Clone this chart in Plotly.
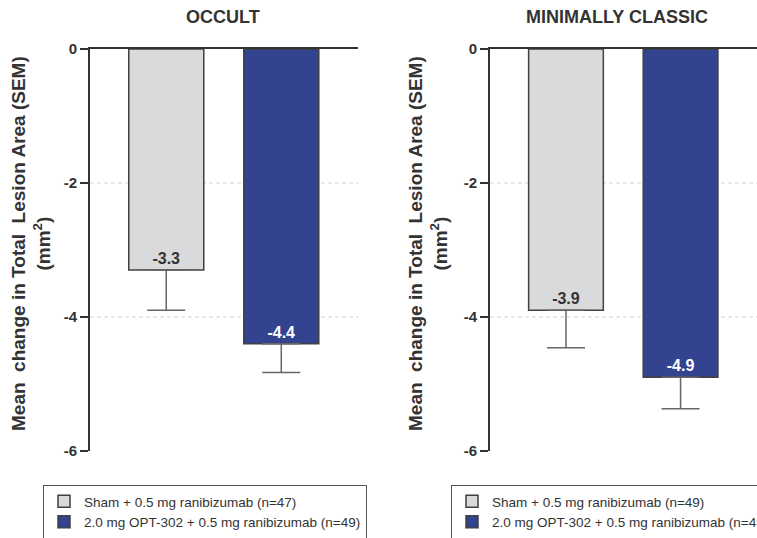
import plotly.graph_objects as go

# Mean change in total lesion area by lesion subtype
panels = ["OCCULT", "MINIMALLY CLASSIC"]
sham_mean = [-3.3, -3.9]
sham_sem = [0.6, 0.56]
sham_n = [47, 49]
opt_mean = [-4.4, -4.9]
opt_sem = [0.43, 0.47]
opt_n = [49, 49]
y_ticks = [0, -2, -4, -6]
grid_vals = [-2, -4]

W, H = 757, 538
FONT = "Liberation Sans, Arial, Helvetica, sans-serif"
TXT = "#333333"
GRAY = "#d9dadb"
BLUE = "#33438f"
EDGE = "#404040"

# panel geometry (pixels)
x_doms = [(90, 358), (490, 757)]
y_top, y_bot = 49, 451
x_range = [-0.663, 1.667]
bar_w = 0.652

fig = go.Figure()

for i, name in enumerate(panels):
    ax = "" if i == 0 else str(i + 1)
    leg = "legend" if i == 0 else "legend2"
    fig.add_trace(go.Bar(
        x=[0], y=[sham_mean[i]], width=[bar_w],
        xaxis="x" + ax, yaxis="y" + ax, legend=leg,
        name=f"Sham + 0.5 mg ranibizumab (n={sham_n[i]})",
        marker=dict(color=GRAY, line=dict(color=EDGE, width=1.5)),
        error_y=dict(type="data", symmetric=False, array=[0], arrayminus=[sham_sem[i]],
                     color="#666666", thickness=1.5, width=19),
        text=[f"{sham_mean[i]:.1f}"], textposition="inside", insidetextanchor="end",
        textangle=0, constraintext="none",
        textfont=dict(family=FONT, size=16, color=TXT, weight="bold"),
        hoverinfo="skip",
    ))
    fig.add_trace(go.Bar(
        x=[1], y=[opt_mean[i]], width=[bar_w],
        xaxis="x" + ax, yaxis="y" + ax, legend=leg,
        name=f"2.0 mg OPT-302 + 0.5 mg ranibizumab (n={opt_n[i]})",
        marker=dict(color=BLUE, line=dict(color=EDGE, width=1.5)),
        error_y=dict(type="data", symmetric=False, array=[0], arrayminus=[opt_sem[i]],
                     color="#666666", thickness=1.5, width=19),
        text=[f"{opt_mean[i]:.1f}"], textposition="inside", insidetextanchor="end",
        textangle=0, constraintext="none",
        textfont=dict(family=FONT, size=16, color="white", weight="bold"),
        hoverinfo="skip",
    ))

layout = dict(
    width=W, height=H,
    margin=dict(l=0, r=0, t=0, b=0, autoexpand=False),
    paper_bgcolor="white", plot_bgcolor="white",
    barmode="overlay",
    font=dict(family=FONT, color=TXT),
    showlegend=True,
)

shapes = []
annotations = []
legend_x = [43, 451]
for i, name in enumerate(panels):
    ax = "" if i == 0 else str(i + 1)
    x0, x1 = x_doms[i]
    dom = [x0 / W, min(x1 / W, 1.0)]
    xr = list(x_range)
    if x1 > W:
        xr[1] = x_range[0] + (x_range[1] - x_range[0]) * (W - x0) / (x1 - x0)
    layout["xaxis" + ax] = dict(
        domain=dom, range=xr, side="top", showline=True, linecolor="#333333",
        linewidth=2, showticklabels=False, ticks="", showgrid=False, zeroline=False,
        fixedrange=True, anchor="y" + ax,
    )
    layout["yaxis" + ax] = dict(
        domain=[1 - y_bot / H, 1 - y_top / H], range=[-6, 0],
        tickvals=y_ticks, ticktext=[str(v) for v in y_ticks],
        ticks="outside", ticklen=8, tickwidth=2, tickcolor="#333333",
        showline=True, linecolor="#333333", linewidth=2,
        showgrid=False, zeroline=False, fixedrange=True, anchor="x" + ax,
        tickfont=dict(family=FONT, size=15, color=TXT, weight="bold"),
    )
    for g in grid_vals:
        shapes.append(dict(
            type="line", xref=("x" + ax) + " domain", yref="y" + ax,
            x0=0, x1=1, y0=g, y1=g, layer="below",
            line=dict(color="#d3d3d3", width=1, dash="4px,3px"),
        ))
    title_cx = [222.5, 617][i]
    annotations.append(dict(
        text=f"<b>{name}</b>", xref="paper", yref="paper",
        x=title_cx / W, y=1 - 17 / H, xanchor="center", yanchor="middle",
        showarrow=False, font=dict(family=FONT, size=18, color=TXT),
    ))
    ytitle_cx = [31, 428][i]
    annotations.append(dict(
        text="<b>Mean  change in Total  Lesion Area (SEM)<br>(mm<sup>2</sup>)</b>",
        xref="paper", yref="paper", x=ytitle_cx / W, y=1 - 244 / H,
        xanchor="center", yanchor="middle", textangle=-90, showarrow=False,
        font=dict(family=FONT, size=19, color=TXT),
    ))
    leg_key = "legend" if i == 0 else "legend2"
    layout[leg_key] = dict(
        x=legend_x[i] / W, y=1 - 485 / H, xanchor="left", yanchor="top",
        bordercolor="#555555", borderwidth=1, bgcolor="white",
        font=dict(family=FONT, size=13.5, color=TXT),
        traceorder="normal",
    )

layout["shapes"] = shapes
layout["annotations"] = annotations
fig.update_layout(**layout)

fig.write_html("out.html")
